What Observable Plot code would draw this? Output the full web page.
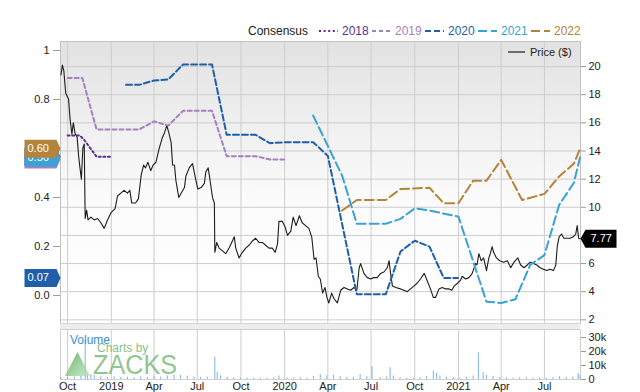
<!DOCTYPE html>
<html><head><meta charset="utf-8">
<script src="https://cdn.jsdelivr.net/npm/d3@7"></script>
<script src="https://cdn.jsdelivr.net/npm/@observablehq/plot@0.6"></script>
<style>
body{margin:0;background:#fff;font-family:"Liberation Sans",Arial,sans-serif;}
#chart{position:relative;width:640px;height:392px;overflow:hidden;background:#fff;}
</style></head><body><div id="chart"></div>
<script>
// ---------- data ----------
const xStart = "2018-09-16", xEnd = "2021-09-15";
const quarterTicks = ["2018-10-01","2019-01-01","2019-04-01","2019-07-01","2019-10-01","2020-01-01","2020-04-01","2020-07-01","2020-10-01","2021-01-01","2021-04-01","2021-07-01"];
const quarterLabels = ["Oct","2019","Apr","Jul","Oct","2020","Apr","Jul","Oct","2021","Apr","Jul"];
const priceGrid = [2,4,6,8,10,12,14,16,18,20];
const priceTicks = [2,4,6,10,12,14,16,18,20];
const epsTicks = [0,0.2,0.4,0.8,1];
const epsTickLabels = ["0.0","0.2","0.4","0.8","1"];
const volTicks = [0,10000,20000,30000];
const volTickLabels = ["0","10k","20k","30k"];

const price = [["2018-09-17",19.4],["2018-09-20",20.1],["2018-09-23",19.7],["2018-09-27",18.1],["2018-10-03",17.7],["2018-10-06",16.3],["2018-10-10",15.2],["2018-10-13",16.0],["2018-10-17",15.2],["2018-10-21",15.0],["2018-10-24",13.7],["2018-10-27",12.8],["2018-10-30",12.0],["2018-11-02",14.2],["2018-11-05",14.5],["2018-11-07",9.2],["2018-11-10",9.8],["2018-11-13",9.1],["2018-11-19",9.3],["2018-11-26",9.1],["2018-12-03",9.2],["2018-12-10",8.9],["2018-12-17",8.5],["2018-12-24",9.1],["2018-12-31",9.6],["2019-01-09",9.9],["2019-01-14",10.8],["2019-01-21",11.0],["2019-01-28",11.2],["2019-02-04",11.0],["2019-02-09",11.2],["2019-02-13",10.3],["2019-02-21",10.3],["2019-02-27",10.6],["2019-03-05",12.3],["2019-03-10",13.0],["2019-03-14",12.8],["2019-03-19",13.2],["2019-03-25",12.6],["2019-03-30",13.0],["2019-04-05",13.2],["2019-04-12",14.2],["2019-04-18",14.9],["2019-04-23",15.3],["2019-04-28",15.8],["2019-05-02",15.3],["2019-05-07",14.6],["2019-05-10",13.0],["2019-05-14",13.0],["2019-05-17",11.9],["2019-05-23",10.7],["2019-05-28",11.0],["2019-06-04",11.4],["2019-06-07",12.2],["2019-06-14",12.8],["2019-06-21",13.1],["2019-06-27",12.1],["2019-07-02",11.3],["2019-07-09",11.4],["2019-07-16",11.7],["2019-07-19",12.5],["2019-07-24",12.8],["2019-07-28",11.9],["2019-08-02",10.7],["2019-08-06",10.3],["2019-08-07",6.8],["2019-08-11",7.5],["2019-08-16",7.1],["2019-08-23",6.9],["2019-08-30",6.7],["2019-09-06",7.1],["2019-09-13",7.6],["2019-09-17",7.9],["2019-09-20",7.1],["2019-09-27",6.4],["2019-10-04",6.8],["2019-10-11",7.1],["2019-10-18",7.3],["2019-10-25",7.6],["2019-11-01",7.8],["2019-11-08",7.5],["2019-11-15",7.5],["2019-11-22",7.3],["2019-11-29",7.1],["2019-12-06",7.1],["2019-12-12",6.8],["2019-12-17",7.4],["2019-12-20",9.0],["2019-12-27",9.0],["2020-01-02",8.6],["2020-01-07",8.0],["2020-01-14",8.3],["2020-01-19",9.3],["2020-01-25",8.7],["2020-02-01",9.4],["2020-02-07",8.9],["2020-02-14",8.7],["2020-02-21",8.5],["2020-02-27",7.9],["2020-03-03",6.3],["2020-03-07",6.4],["2020-03-12",5.1],["2020-03-16",4.9],["2020-03-21",3.9],["2020-03-26",4.3],["2020-03-30",3.6],["2020-04-03",3.2],["2020-04-09",3.9],["2020-04-14",3.5],["2020-04-21",3.2],["2020-04-28",4.1],["2020-05-05",4.3],["2020-05-12",4.2],["2020-05-19",4.1],["2020-05-26",4.3],["2020-06-01",4.1],["2020-06-06",5.7],["2020-06-09",6.0],["2020-06-16",5.3],["2020-06-23",5.0],["2020-06-30",4.9],["2020-07-07",5.0],["2020-07-14",5.0],["2020-07-21",5.3],["2020-07-28",5.4],["2020-08-04",5.7],["2020-08-08",6.2],["2020-08-11",5.3],["2020-08-15",4.4],["2020-08-22",4.3],["2020-09-01",4.2],["2020-09-08",4.1],["2020-09-15",4.0],["2020-09-22",4.2],["2020-09-29",4.4],["2020-10-06",4.6],["2020-10-13",4.9],["2020-10-21",5.3],["2020-10-27",4.8],["2020-11-03",4.2],["2020-11-09",3.6],["2020-11-14",3.6],["2020-11-21",4.2],["2020-11-28",4.3],["2020-12-05",4.2],["2020-12-12",4.2],["2020-12-18",4.1],["2020-12-23",4.4],["2020-12-30",4.6],["2021-01-05",4.8],["2021-01-09",5.1],["2021-01-16",4.9],["2021-01-23",5.0],["2021-01-30",5.3],["2021-02-02",5.6],["2021-02-06",6.0],["2021-02-09",5.9],["2021-02-13",6.7],["2021-02-18",6.2],["2021-02-23",6.4],["2021-03-01",5.5],["2021-03-06",6.4],["2021-03-09",6.7],["2021-03-13",7.2],["2021-03-16",6.8],["2021-03-22",6.4],["2021-03-29",6.2],["2021-04-06",6.1],["2021-04-14",6.2],["2021-04-21",5.7],["2021-04-28",6.1],["2021-05-06",6.4],["2021-05-12",5.9],["2021-05-19",5.7],["2021-05-26",5.9],["2021-06-01",6.1],["2021-06-08",6.0],["2021-06-15",5.9],["2021-06-22",5.7],["2021-06-29",5.6],["2021-07-06",5.5],["2021-07-13",5.6],["2021-07-20",5.5],["2021-07-25",5.9],["2021-07-28",7.2],["2021-08-01",7.9],["2021-08-06",8.1],["2021-08-11",7.8],["2021-08-17",7.8],["2021-08-24",7.8],["2021-08-31",7.9],["2021-09-05",8.1],["2021-09-08",8.7],["2021-09-11",7.8],["2021-09-14",7.77]];
const lastPrice = 7.77;

const seriesNames = ["2018","2019","2020","2021","2022"];
const seriesColors = ["#5c2d91","#a67fc0","#1f5faa","#3aa2d4","#b4843c"];
const seriesDash = ["2,2.6","4,3","6,3","9,4","9,4"];
const eps2018 = [["2018-10-01",0.653],["2018-10-27",0.653],["2018-11-05",0.635],["2018-12-01",0.567],["2018-12-31",0.567]];
const eps2019 = [["2018-10-01",0.888],["2018-11-01",0.888],["2018-12-01",0.678],["2019-03-01",0.678],["2019-04-01",0.711],["2019-05-01",0.694],["2019-06-01",0.754],["2019-08-01",0.754],["2019-09-01",0.569],["2019-11-01",0.569],["2019-12-01",0.555],["2019-12-31",0.555]];
const eps2020 = [["2019-02-01",0.86],["2019-03-01",0.86],["2019-04-01",0.878],["2019-05-01",0.882],["2019-06-01",0.943],["2019-08-01",0.943],["2019-09-01",0.656],["2019-11-01",0.656],["2019-12-01",0.622],["2020-01-01",0.626],["2020-03-01",0.626],["2020-04-01",0.57],["2020-06-01",0.005],["2020-08-01",0.005],["2020-09-01",0.18],["2020-10-01",0.224],["2020-11-01",0.2],["2020-12-01",0.072],["2020-12-31",0.072]];
const eps2021 = [["2020-03-01",0.735],["2020-05-01",0.49],["2020-06-01",0.293],["2020-08-01",0.293],["2020-09-01",0.313],["2020-10-01",0.356],["2020-11-01",0.347],["2021-01-01",0.322],["2021-03-01",-0.025],["2021-04-01",-0.03],["2021-05-01",-0.015],["2021-06-01",0.125],["2021-07-01",0.165],["2021-08-01",0.37],["2021-09-01",0.46],["2021-09-14",0.564]];
const eps2022 = [["2020-05-01",0.347],["2020-06-01",0.39],["2020-08-01",0.39],["2020-09-01",0.435],["2020-11-01",0.44],["2020-12-01",0.377],["2021-01-01",0.377],["2021-02-01",0.469],["2021-03-01",0.469],["2021-04-01",0.554],["2021-05-15",0.39],["2021-07-01",0.415],["2021-08-01",0.486],["2021-09-01",0.538],["2021-09-14",0.599]];
const epsSeries = [eps2018, eps2019, eps2020, eps2021, eps2022];
const flagValues = [0.567, 0.555, 0.072, 0.564, 0.599];
const flagLabels = ["", "", "0.07", "0.56", "0.60"];

const volume = [["2018-09-17",1500],["2018-10-01",1300],["2018-10-15",1800],["2018-10-29",2400],["2018-11-07",28000],["2018-11-12",4000],["2018-11-19",3500],["2018-11-26",2800],["2018-12-10",2000],["2018-12-24",1500],["2019-01-07",1800],["2019-01-21",1400],["2019-02-04",1600],["2019-02-18",1300],["2019-03-04",1900],["2019-03-18",1500],["2019-04-01",2200],["2019-04-15",1800],["2019-04-29",2600],["2019-05-13",3200],["2019-05-27",2800],["2019-06-10",2400],["2019-06-24",1800],["2019-07-08",1500],["2019-07-22",1700],["2019-08-07",16000],["2019-08-12",5000],["2019-08-19",2600],["2019-09-02",1500],["2019-09-16",1200],["2019-09-30",1000],["2019-10-14",900],["2019-10-28",1100],["2019-11-11",800],["2019-11-25",900],["2019-12-09",1300],["2019-12-20",2600],["2020-01-06",1200],["2020-01-20",1000],["2020-02-03",1300],["2020-02-17",900],["2020-03-02",2200],["2020-03-16",3500],["2020-03-30",2600],["2020-04-13",3000],["2020-04-27",2000],["2020-05-11",1500],["2020-05-25",1300],["2020-06-08",3500],["2020-06-22",2000],["2020-07-03",9000],["2020-07-20",1500],["2020-08-03",1800],["2020-08-10",8500],["2020-08-17",2500],["2020-08-31",1200],["2020-09-14",1000],["2020-09-28",900],["2020-10-12",1200],["2020-10-26",2000],["2020-11-09",6000],["2020-11-16",4500],["2020-11-23",2500],["2020-12-07",1500],["2020-12-21",1300],["2021-01-04",1000],["2021-01-18",1200],["2021-02-01",2500],["2021-02-12",19000],["2021-02-22",5000],["2021-03-01",3000],["2021-03-15",2200],["2021-03-29",1500],["2021-04-12",1200],["2021-04-26",1000],["2021-05-10",1300],["2021-05-24",1100],["2021-06-07",900],["2021-06-21",1200],["2021-07-05",1000],["2021-07-19",1300],["2021-08-02",2000],["2021-08-16",1500],["2021-08-30",1800],["2021-09-10",4500],["2021-09-14",3000]];

// ---------- helpers ----------
const D = s => new Date(s);
const xDomain = [D(xStart), D(xEnd)];
const qTicks = quarterTicks.map(D);
const qLabel = new Map(qTicks.map((d,i)=>[+d, quarterLabels[i]]));
const font = "'Liberation Sans', Arial, sans-serif";
const style = {fontFamily: font, fontSize: "11px", background: "transparent", overflow: "visible", color: "#222"};
const grid = "#cdcdcd";
const flagL = {draw(c){c.moveTo(0,0);c.lineTo(-4,-9);c.lineTo(-36,-9);c.lineTo(-36,9);c.lineTo(-4,9);c.closePath();}};
const flagR = {draw(c){c.moveTo(0,0);c.lineTo(5,-9);c.lineTo(36,-9);c.lineTo(36,9);c.lineTo(5,9);c.closePath();}};
const root = document.getElementById("chart");
function place(el, top){el.style.position="absolute";el.style.left="0px";el.style.top=top+"px";root.appendChild(el);}

// ---------- main price panel ----------
const mainSvg = Plot.plot({
  width: 640, height: 323, marginTop: 41, marginBottom: 0, marginLeft: 60, marginRight: 60,
  style,
  x: {type: "utc", domain: xDomain, axis: null},
  y: {domain: [1.74, 21.78]},
  marks: [
    Plot.frame({fill: "url(#bgGrad)", stroke: "none"}),
    Plot.ruleX(qTicks, {stroke: grid}),
    Plot.ruleY(priceGrid, {stroke: grid}),
    Plot.frame({stroke: "#c2c2c2", fill: "none"}),
    Plot.axisY(priceTicks, {anchor: "right", tickSize: 5, tickPadding: 3, stroke: "#999", fill: "#222", label: null, tickFormat: d => String(d)}),
    Plot.lineY(price, {x: d => D(d[0]), y: d => d[1], stroke: "#1c1c1c", strokeWidth: 1.1}),
    Plot.dot([lastPrice], {frameAnchor: "right", y: d => d, symbol: flagR, fill: "#000", stroke: "none"}),
    Plot.text([lastPrice], {frameAnchor: "right", y: d => d, dx: 10, textAnchor: "start", text: d => d.toFixed(2), fill: "#fff", fontSize: 11})
  ]
});
const defs = d3.select(mainSvg).insert("defs", ":first-child");
const gr = defs.append("linearGradient").attr("id","bgGrad").attr("x1",0).attr("y1",0).attr("x2",0).attr("y2",1);
gr.append("stop").attr("offset","0%").attr("stop-color","#e2e2e2");
gr.append("stop").attr("offset","55%").attr("stop-color","#fbfbfb");
gr.append("stop").attr("offset","100%").attr("stop-color","#ffffff");
place(mainSvg, 0);

// ---------- consensus overlay ----------
const flagMarks = [];
flagValues.forEach((v,i) => {
  flagMarks.push(Plot.dot([v], {frameAnchor: "left", y: d => d, symbol: flagL, fill: seriesColors[i], stroke: "none"}));
  if (flagLabels[i]) flagMarks.push(Plot.text([v], {frameAnchor: "left", y: d => d, dx: -33, textAnchor: "start", text: () => flagLabels[i], fill: "#fff", fontSize: 11}));
});
const epsSvg = Plot.plot({
  width: 640, height: 323, marginTop: 41, marginBottom: 0, marginLeft: 60, marginRight: 60,
  style,
  x: {type: "utc", domain: xDomain, axis: null},
  y: {domain: [-0.114, 1.037]},
  marks: [
    Plot.axisY(epsTicks, {anchor: "left", tickSize: 7, tickPadding: 4, stroke: "#999", fill: "#222", label: null, tickFormat: (d) => epsTickLabels[epsTicks.indexOf(d)]}),
    ...epsSeries.map((s,i) => Plot.lineY(s, {x: d => D(d[0]), y: d => d[1], stroke: seriesColors[i], strokeWidth: 2, strokeDasharray: seriesDash[i]})),
    ...flagMarks
  ]
});
place(epsSvg, 0);

// ---------- separator band ----------
const band = document.createElement("div");
band.style.cssText = "width:520px;height:5px;background:#ededed;border-top:1px solid #d6d6d6;";
place(band, 323); band.style.left = "60px";

// ---------- volume panel ----------
const volSvg = Plot.plot({
  width: 640, height: 69, marginTop: 6, marginBottom: 13, marginLeft: 60, marginRight: 60,
  style,
  x: {type: "utc", domain: xDomain},
  y: {domain: [0, 35700]},
  marks: [
    Plot.ruleX(qTicks, {stroke: grid}),
    Plot.frame({stroke: "#d0d0d0", fill: "none"}),
    Plot.ruleX(volume, {x: d => D(d[0]), y1: 0, y2: d => d[1], stroke: "#7fb3e3", strokeWidth: 1}),
    Plot.axisY(volTicks, {anchor: "right", tickSize: 5, tickPadding: 3, stroke: "#999", fill: "#222", label: null, tickFormat: d => volTickLabels[volTicks.indexOf(d)]}),
    Plot.axisX(qTicks, {tickSize: 0, tickPadding: 3, fill: "#222", label: null, tickFormat: d => qLabel.get(+d)})
  ]
});
place(volSvg, 323);

// ---------- watermark & volume label ----------
const ns = "http://www.w3.org/2000/svg";
const wm = document.createElementNS(ns, "svg");
wm.setAttribute("width", 200); wm.setAttribute("height", 69);
wm.innerHTML = `<defs><linearGradient id="tri" x1="0" y1="0" x2="1" y2="1"><stop offset="0" stop-color="#3c9a3c"/><stop offset="1" stop-color="#bfe3bf"/></linearGradient></defs>
<text x="70" y="21" font-family="${font}" font-size="12" fill="#3d8fd6">Volume</text>
<text x="97" y="29" font-family="${font}" font-size="12" fill="#7fba7f" opacity="0.9">Charts by</text>
<polygon points="65,53 77.5,29 90,53" fill="url(#tri)" opacity="0.75"/>
<text x="93" y="51" font-family="${font}" font-size="27" fill="#6db36d" opacity="0.75" textLength="84" lengthAdjust="spacingAndGlyphs">ZACKS</text>`;
place(wm, 323);

// ---------- legend ----------
const lg = document.createElementNS(ns, "svg");
lg.setAttribute("width", 640); lg.setAttribute("height", 60);
let html = `<text x="248" y="35" font-family="${font}" font-size="12" fill="#222">Consensus</text>`;
const swX = [319, 372, 425, 478, 531];
seriesNames.forEach((n,i) => {
  html += `<line x1="${swX[i]}" x2="${swX[i]+19}" y1="31" y2="31" stroke="${seriesColors[i]}" stroke-width="2" stroke-dasharray="${seriesDash[i]}"/>`;
  html += `<text x="${swX[i]+23}" y="35" font-family="${font}" font-size="12" fill="${seriesColors[i]}">${n}</text>`;
});
html += `<line x1="508" x2="525" y1="52" y2="52" stroke="#444" stroke-width="1.5"/>`;
html += `<text x="530" y="56" font-family="${font}" font-size="11" fill="#222">Price ($)</text>`;
lg.innerHTML = html;
place(lg, 0);
</script></body></html>
